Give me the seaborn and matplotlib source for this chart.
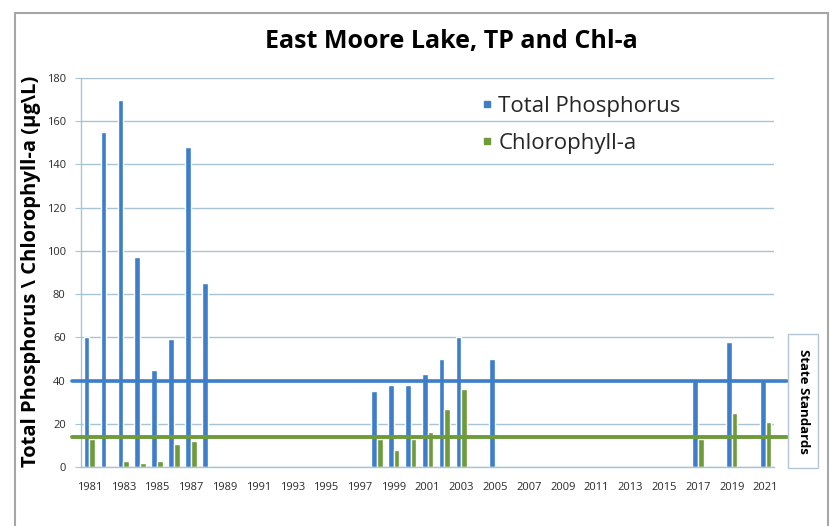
import numpy as np
import pandas as pd
import seaborn as sns
import matplotlib
matplotlib.use("Agg")
import matplotlib.pyplot as plt
from matplotlib.patches import Rectangle
from matplotlib.lines import Line2D

# ---- data ----
years = list(range(1981, 2022))
tp_years = [1981, 1982, 1983, 1984, 1985, 1986, 1987, 1988, 1998, 1999, 2000,
            2001, 2002, 2003, 2005, 2017, 2019, 2021]
tp_values = [60, 155, 170, 97, 45, 59, 148, 85, 35, 38, 38, 43, 50, 60, 50, 40, 58, 40]
chl_years = [1981, 1983, 1984, 1985, 1986, 1987, 1998, 1999, 2000, 2001, 2002,
             2003, 2017, 2019, 2021]
chl_values = [13, 3, 2, 3, 10.5, 12, 13, 8, 13, 16, 27, 36, 13, 25, 21]
series = ["Total Phosphorus", "Chlorophyll-a"]
tp_standard = 40
chl_standard = 14
y_ticks = [0, 20, 40, 60, 80, 100, 120, 140, 160, 180]

rows = [(str(y), series[0], v) for y, v in zip(tp_years, tp_values)] + \
       [(str(y), series[1], v) for y, v in zip(chl_years, chl_values)]
df = pd.DataFrame(rows, columns=["Year", "Series", "Value"])

blue = "#3D7DCA"
green = "#6E9B3A"
grid_c = "#A9C3D6"
text_c = "#2A2A2A"

sns.set_style("white")
plt.rcParams["font.family"] = ["Open Sans", "DejaVu Sans"]

fig = plt.figure(figsize=(8.36, 5.26), dpi=100)
ax = fig.add_axes([81/836, 1 - 467/526, 693/836, 389/526])

sns.barplot(data=df, x="Year", y="Value", hue="Series", order=[str(y) for y in years],
            hue_order=series, palette=[blue, green], width=0.68, errorbar=None,
            saturation=1, ax=ax, legend=False)

ax.set_ylim(0, 180)
ax.set_yticks(y_ticks)
ax.set_xlim(-0.5, len(years) - 0.5)
ax.set_xticks(range(0, len(years), 2))
ax.set_xticklabels([str(y) for y in years[::2]])
ax.tick_params(axis="x", labelsize=8, colors=text_c, length=0, pad=11)
ax.tick_params(axis="y", labelsize=8, colors=text_c, length=4, direction="out",
               color=grid_c, pad=7, left=True)
for lab in ax.get_xticklabels() + ax.get_yticklabels():
    lab.set_color(text_c)

ax.yaxis.grid(True, color=grid_c, lw=1)
ax.set_axisbelow(True)
for s in ["top", "right"]:
    ax.spines[s].set_visible(False)
for s in ["left", "bottom"]:
    ax.spines[s].set_color(grid_c)
    ax.spines[s].set_linewidth(1)

ax.set_xlabel("")
ax.set_ylabel("Total Phosphorus \\ Chlorophyll-a (µg\\L)", fontsize=14.5, fontweight="bold",
              color="black")
ax.yaxis.set_label_coords(-40/693, 0.503)

# standards lines
tr = ax.get_yaxis_transform()
ax.plot([-0.013, 1.019], [tp_standard, tp_standard], color=blue, lw=2.6, transform=tr,
        clip_on=False, zorder=5)
ax.plot([-0.013, 1.019], [chl_standard, chl_standard], color=green, lw=2.8, transform=tr,
        clip_on=False, zorder=5)

# State Standards box
fig.add_artist(Rectangle((788/836, 1 - 468/526), 30/836, 134/526, transform=fig.transFigure,
                         facecolor="white", edgecolor="#B4C6D4", lw=1))
fig.text(803/836, 1 - 401/526, "State Standards", rotation=-90, ha="center", va="center",
         fontsize=9.5, fontweight="bold", color="black")

# title
fig.text(451/836, 1 - 41/526, "East Moore Lake, TP and Chl-a", ha="center", va="center",
         fontsize=18, fontweight="bold", color="black")

# legend
handles = [Line2D([], [], ls="none", marker="s", markersize=5, color=c) for c in (blue, green)]
ax.legend(handles, series, loc="upper left", bbox_to_anchor=(0.578, 0.955), frameon=False,
          fontsize=16, handlelength=0.5, handletextpad=0.25,
          labelspacing=0.75, borderpad=0, borderaxespad=0)

# outer frame
fig.add_artist(Rectangle((15/836, -0.05), 813/836, 1.05 - 13/526, transform=fig.transFigure,
                         facecolor="none", edgecolor="#A6A6A6", lw=1.5))

fig.savefig("out.png", dpi=100)
